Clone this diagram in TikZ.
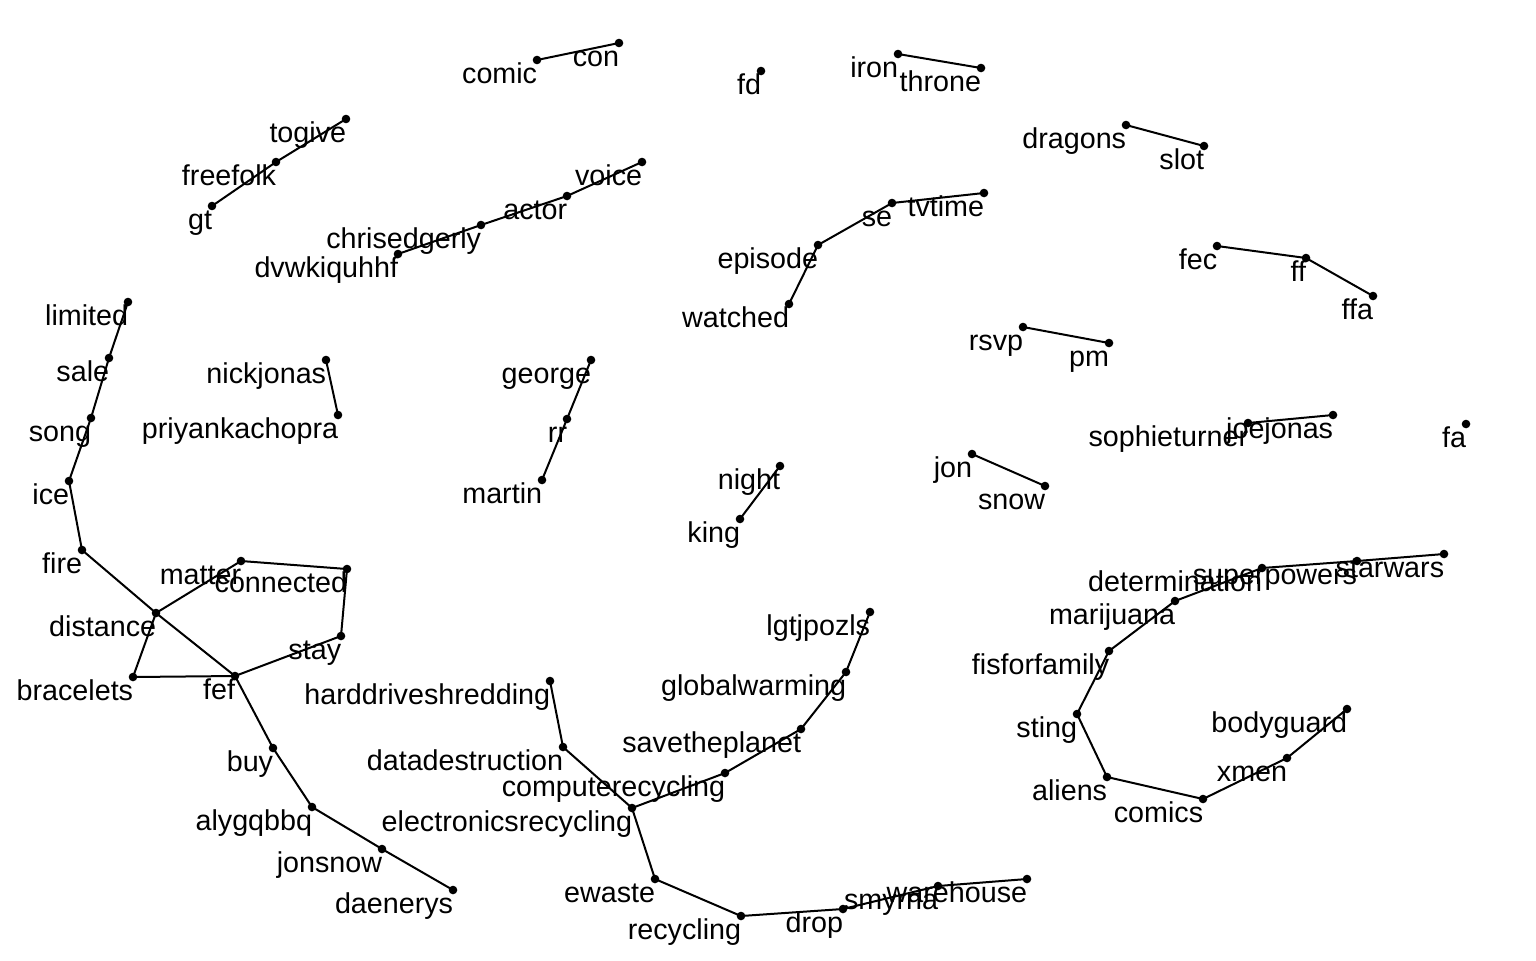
\documentclass[tikz,border=0pt]{standalone}
\usepackage{fontspec}
\setmainfont{Liberation Sans}
\pgfdeclarelayer{background}
\pgfsetlayers{background,main}
\tikzset{
  dot/.style={circle,fill=black,inner sep=0pt,minimum size=4.3pt},
  lbl/.style={anchor=base east,inner sep=0pt,font=\fontsize{14.35pt}{17pt}\selectfont},
  edge/.style={draw=black,line width=1pt}
}
\newcommand\pt[3]{\node[dot] (#1) at (#2,#3) {}; \node[lbl] (#1-t) at (#2+0.5,#3+23) {#1};}
\begin{document}
\begin{tikzpicture}[x=0.5pt,y=-0.5pt]
\useasboundingbox (0,0) rectangle (1536,960);
\pt{comic}{537}{60}
\pt{con}{619}{43}
\pt{fd}{761}{71}
\pt{iron}{898}{54}
\pt{throne}{981}{68}
\pt{dragons}{1126}{125}
\pt{slot}{1204}{146}
\pt{togive}{346}{119}
\pt{freefolk}{276}{162}
\pt{gt}{212}{206}
\pt{voice}{642}{162}
\pt{actor}{567}{196}
\pt{chrisedgerly}{481}{225}
\pt{dvwkiquhhf}{398}{254}
\pt{tvtime}{984}{193}
\pt{se}{892}{203}
\pt{episode}{818}{245}
\pt{watched}{789}{304}
\pt{fec}{1217}{246}
\pt{ff}{1306}{258}
\pt{ffa}{1373}{296}
\pt{rsvp}{1023}{327}
\pt{pm}{1109}{343}
\pt{limited}{128}{302}
\pt{sale}{109}{358}
\pt{song}{91}{418}
\pt{ice}{69}{481}
\pt{fire}{82}{550}
\pt{distance}{156}{613}
\pt{matter}{241}{561}
\pt{connected}{347}{569}
\pt{stay}{341}{636}
\pt{fef}{235}{676}
\pt{bracelets}{133}{677}
\pt{buy}{273}{748}
\pt{alygqbbq}{312}{807}
\pt{jonsnow}{382}{849}
\pt{daenerys}{453}{890}
\pt{nickjonas}{326}{360}
\pt{priyankachopra}{338}{415}
\pt{george}{591}{360}
\pt{rr}{567}{419}
\pt{martin}{542}{480}
\pt{night}{780}{466}
\pt{king}{740}{519}
\pt{jon}{972}{454}
\pt{snow}{1045}{486}
\pt{sophieturner}{1248}{423}
\pt{joejonas}{1333}{415}
\pt{fa}{1466}{424}
\pt{starwars}{1444}{554}
\pt{superpowers}{1357}{561}
\pt{determination}{1262}{568}
\pt{marijuana}{1175}{601}
\pt{fisforfamily}{1109}{651}
\pt{sting}{1077}{714}
\pt{aliens}{1107}{777}
\pt{comics}{1203}{799}
\pt{xmen}{1287}{758}
\pt{bodyguard}{1347}{709}
\pt{lgtjpozls}{870}{612}
\pt{globalwarming}{846}{672}
\pt{savetheplanet}{801}{729}
\pt{computerecycling}{725}{773}
\pt{electronicsrecycling}{632}{808}
\pt{datadestruction}{563}{747}
\pt{harddriveshredding}{550}{681}
\pt{ewaste}{655}{879}
\pt{recycling}{741}{916}
\pt{drop}{843}{909}
\pt{smyrna}{938}{886}
\pt{warehouse}{1027}{879}
\begin{pgfonlayer}{background}
\draw[edge] (comic.center) -- (con.center);
\draw[edge] (iron.center) -- (throne.center);
\draw[edge] (dragons.center) -- (slot.center);
\draw[edge] (togive.center) -- (freefolk.center) -- (gt.center);
\draw[edge] (voice.center) -- (actor.center) -- (chrisedgerly.center) -- (dvwkiquhhf.center);
\draw[edge] (tvtime.center) -- (se.center) -- (episode.center) -- (watched.center);
\draw[edge] (fec.center) -- (ff.center) -- (ffa.center);
\draw[edge] (rsvp.center) -- (pm.center);
\draw[edge] (limited.center) -- (sale.center) -- (song.center) -- (ice.center) -- (fire.center) -- (distance.center) -- (fef.center);
\draw[edge] (distance.center) -- (matter.center) -- (connected.center) -- (stay.center) -- (fef.center);
\draw[edge] (distance.center) -- (bracelets.center) -- (fef.center);
\draw[edge] (fef.center) -- (buy.center) -- (alygqbbq.center) -- (jonsnow.center) -- (daenerys.center);
\draw[edge] (nickjonas.center) -- (priyankachopra.center);
\draw[edge] (george.center) -- (rr.center) -- (martin.center);
\draw[edge] (night.center) -- (king.center);
\draw[edge] (jon.center) -- (snow.center);
\draw[edge] (sophieturner.center) -- (joejonas.center);
\draw[edge] (starwars.center) -- (superpowers.center) -- (determination.center) -- (marijuana.center) -- (fisforfamily.center) -- (sting.center) -- (aliens.center) -- (comics.center) -- (xmen.center) -- (bodyguard.center);
\draw[edge] (lgtjpozls.center) -- (globalwarming.center) -- (savetheplanet.center) -- (computerecycling.center) -- (electronicsrecycling.center);
\draw[edge] (harddriveshredding.center) -- (datadestruction.center) -- (electronicsrecycling.center);
\draw[edge] (electronicsrecycling.center) -- (ewaste.center) -- (recycling.center) -- (drop.center) -- (smyrna.center) -- (warehouse.center);
\end{pgfonlayer}
\end{tikzpicture}
\end{document}
